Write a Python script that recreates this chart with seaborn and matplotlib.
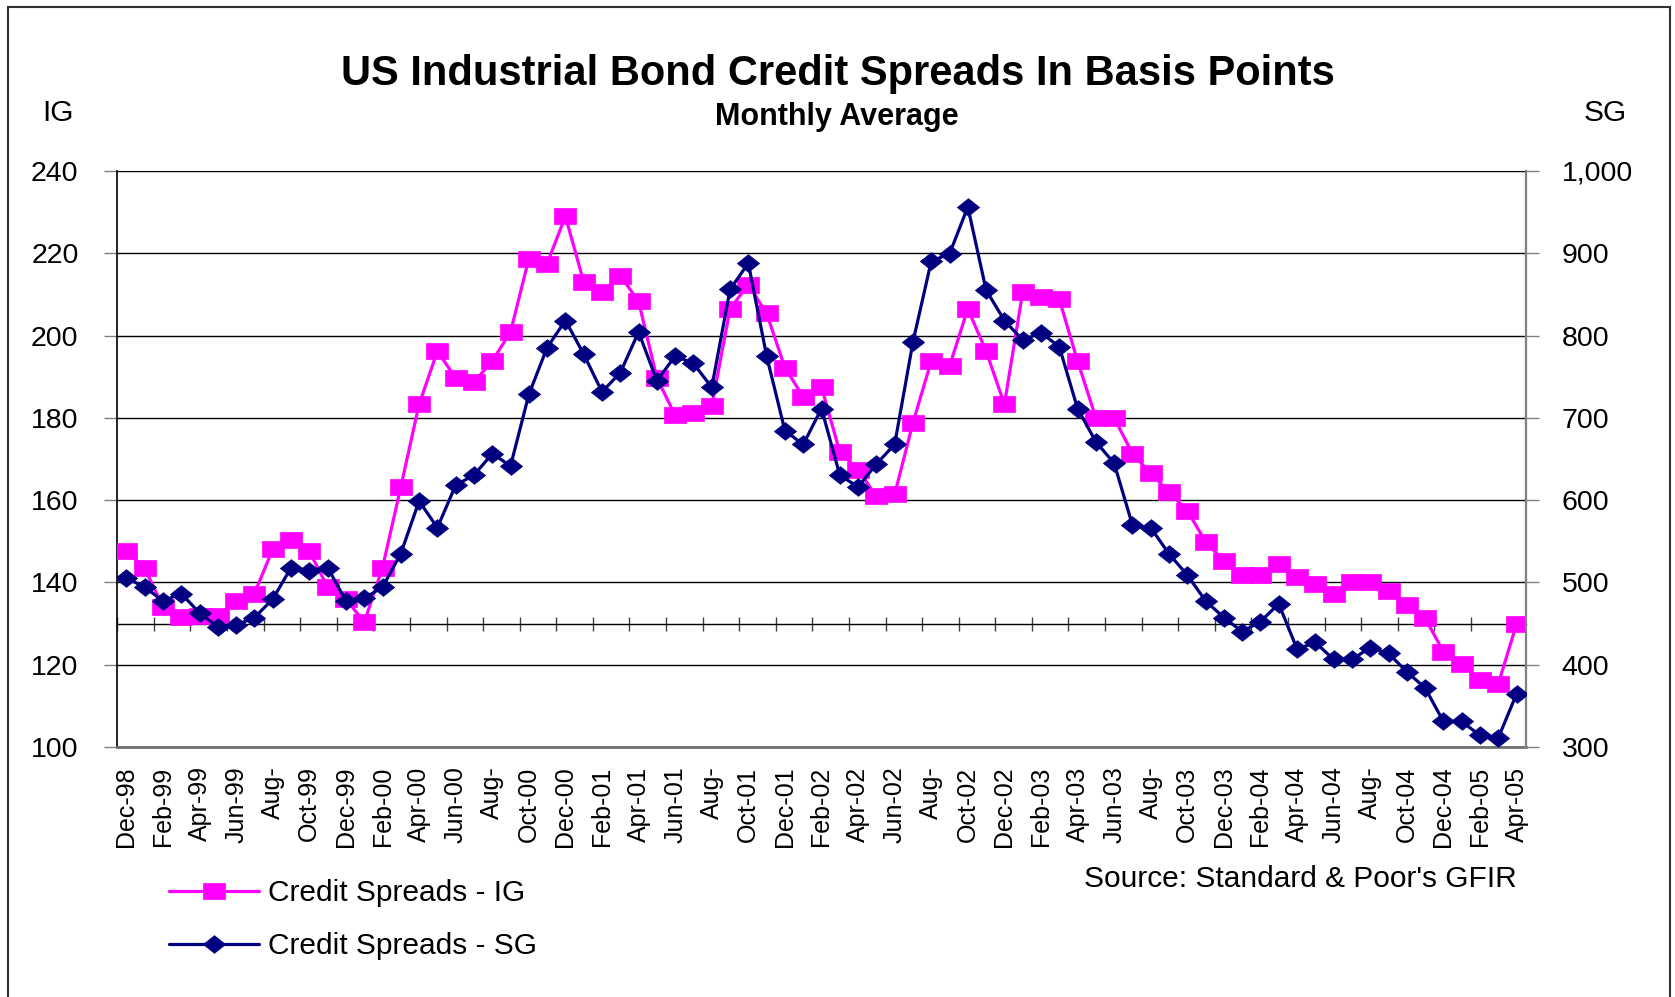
import numpy as np
import pandas as pd
import matplotlib
matplotlib.use("Agg")
import matplotlib.pyplot as plt
from matplotlib.patches import Rectangle
from matplotlib.ticker import FuncFormatter
import seaborn as sns

# ---------------- data ----------------
tick_labels = ["Dec-98", "Feb-99", "Apr-99", "Jun-99", "Aug-", "Oct-99", "Dec-99",
               "Feb-00", "Apr-00", "Jun-00", "Aug-", "Oct-00", "Dec-00", "Feb-01",
               "Apr-01", "Jun-01", "Aug-", "Oct-01", "Dec-01", "Feb-02", "Apr-02",
               "Jun-02", "Aug-", "Oct-02", "Dec-02", "Feb-03", "Apr-03", "Jun-03",
               "Aug-", "Oct-03", "Dec-03", "Feb-04", "Apr-04", "Jun-04", "Aug-",
               "Oct-04", "Dec-04", "Feb-05", "Apr-05"]

ig_spreads = [147.6, 143.5, 134.0, 131.5, 131.9, 131.9, 135.5, 137.3, 148.1, 150.3,
              147.6, 138.8, 136.0, 130.3, 143.6, 163.2, 183.3, 196.2, 189.7, 188.7,
              193.8, 200.9, 218.7, 217.5, 229.0, 213.0, 210.6, 214.6, 208.3, 189.7,
              180.6, 181.2, 182.9, 206.5, 212.4, 205.4, 192.2, 185.1, 187.5, 171.7,
              167.4, 160.9, 161.4, 178.8, 193.8, 192.6, 206.5, 196.2, 183.3, 210.6,
              209.4, 208.8, 193.8, 180.0, 180.0, 171.3, 166.5, 162.0, 157.4, 149.9,
              145.2, 141.8, 141.8, 144.6, 141.3, 139.5, 137.2, 140.0, 140.0, 138.0,
              134.6, 131.3, 123.2, 120.1, 116.4, 115.3, 129.9]

sg_spreads = [505.4, 494.2, 477.5, 486.5, 462.7, 446.0, 448.3, 457.3, 479.8, 518.0,
              514.4, 518.0, 477.5, 480.7, 494.2, 535.1, 598.9, 566.5, 618.3, 630.4,
              656.5, 641.6, 728.4, 785.5, 818.3, 777.4, 731.6, 754.9, 804.4, 745.0,
              775.2, 766.2, 737.0, 856.1, 888.0, 775.2, 684.4, 667.7, 711.3, 630.4,
              616.0, 643.9, 667.7, 792.3, 890.3, 899.3, 956.4, 855.2, 818.3, 794.5,
              803.5, 786.4, 711.3, 670.9, 644.8, 569.7, 566.5, 534.6, 509.0, 477.5,
              457.3, 440.2, 452.5, 474.0, 419.0, 427.0, 406.5, 406.5, 420.8, 413.8,
              391.4, 371.8, 331.0, 331.0, 314.0, 311.0, 364.5]

ig_ticks = [100, 120, 140, 160, 180, 200, 220, 240]
sg_ticks = [300, 400, 500, 600, 700, 800, 900, 1000]

df = pd.DataFrame({"month": np.arange(len(ig_spreads)),
                   "IG": ig_spreads, "SG": sg_spreads})

# ---------------- style ----------------
sns.set_style("white")
plt.rcParams["font.family"] = ["Liberation Sans", "DejaVu Sans"]
plt.rcParams["text.color"] = "black"
plt.rcParams["xtick.color"] = "black"
plt.rcParams["ytick.color"] = "black"
plt.rcParams["axes.labelcolor"] = "black"

IG_COLOR = "#FF00FF"
SG_COLOR = "#000080"

W, H = 1675, 997
fig = plt.figure(figsize=(W / 100, H / 100), dpi=100)
fig.patch.set_facecolor("white")

left_px, right_px, top_px, bottom_px = 117.3, 1525.7, 171, 747
ax = fig.add_axes([left_px / W, 1 - bottom_px / H,
                   (right_px - left_px) / W, (bottom_px - top_px) / H])
ax2 = ax.twinx()

square = [(-1.35, -1), (1.35, -1), (1.35, 1), (-1.35, 1), (-1.35, -1)]
diamond = [(-1.25, 0), (0, 1), (1.25, 0), (0, -1), (-1.25, 0)]

sns.lineplot(data=df, x="month", y="IG", ax=ax, color=IG_COLOR, linewidth=2.3,
             marker=square, markersize=16.5, markeredgecolor=IG_COLOR,
             markerfacecolor=IG_COLOR, markeredgewidth=0.5,
             label="Credit Spreads - IG", zorder=5)
sns.lineplot(data=df, x="month", y="SG", ax=ax2, color=SG_COLOR, linewidth=2.3,
             marker=diamond, markersize=16, markeredgecolor=SG_COLOR,
             markerfacecolor=SG_COLOR, markeredgewidth=0.5,
             label="Credit Spreads - SG", zorder=5)

n = len(ig_spreads)
ax.set_xlim(-0.5, n - 0.5)
ax.set_ylim(ig_ticks[0], ig_ticks[-1])
ax2.set_ylim(sg_ticks[0], sg_ticks[-1])

# x tick labels
ax.set_xticks(np.arange(0, n, 2))
ax.set_xticklabels(tick_labels, rotation=90, fontsize=18, va="top", ha="center")
ax.tick_params(axis="x", length=0, pad=14)
ax.set_xlabel("")

# y axes
ax.set_yticks(ig_ticks)
ax.set_yticklabels([str(t) for t in ig_ticks])
ax.tick_params(axis="y", length=9.4, width=1, color="#808080", pad=18.5,
               labelsize=20.5, labelcolor="black", direction="out")
ax.set_ylabel("")
ax2.set_yticks(sg_ticks)
ax2.yaxis.set_major_formatter(FuncFormatter(lambda v, p: f"{v:,.0f}"))
ax2.tick_params(axis="y", length=9.4, width=1, color="#808080", pad=16.5,
                labelsize=20.5, labelcolor="black", direction="out")
ax2.set_ylabel("")
ax.tick_params(axis="x", labelcolor="black")

# grid
ax.yaxis.grid(True, color="black", linewidth=1)
ax.xaxis.grid(False)
ax2.grid(False)
ax.set_axisbelow(True)

# spines
for a in (ax, ax2):
    for s in ("top", "left", "right", "bottom"):
        a.spines[s].set_visible(False)
ax.spines["left"].set_visible(True)
ax.spines["left"].set_color("black")
ax.spines["left"].set_linewidth(1.2)
ax.spines["bottom"].set_visible(True)
ax.spines["bottom"].set_color("#707070")
ax.spines["bottom"].set_linewidth(2)
ax2.spines["right"].set_visible(True)
ax2.spines["right"].set_color("#808080")
ax2.spines["right"].set_linewidth(1.6)

# category axis crossing at IG = 130
cross = 130
sec = ax.secondary_xaxis((cross - ig_ticks[0]) / (ig_ticks[-1] - ig_ticks[0]))
sec.set_xticks(np.arange(-0.5, n - 0.5, 2))
sec.tick_params(axis="x", direction="inout", length=9.4, width=1,
                color="#404040", labelbottom=False)
sec.spines["bottom"].set_color("black")
sec.spines["bottom"].set_linewidth(1)

# remove automatic legends
for a in (ax, ax2):
    if a.get_legend() is not None:
        a.get_legend().remove()

h1 = [l for l in ax.get_lines() if l.get_label() == "Credit Spreads - IG"][0]
h2 = [l for l in ax2.get_lines() if l.get_label() == "Credit Spreads - SG"][0]
fig.legend([h1, h2], ["Credit Spreads - IG", "Credit Spreads - SG"],
           loc="upper left", bbox_to_anchor=(169 / W, 1 - 879 / H),
           frameon=False, fontsize=21.5, handlelength=3.0, handletextpad=0.3,
           labelspacing=0.85, borderpad=0, borderaxespad=0)

# texts
fig.text(838 / W, 1 - 74 / H, "US Industrial Bond Credit Spreads In Basis Points",
         ha="center", va="center", fontsize=30, fontweight="bold")
fig.text(837 / W, 1 - 117 / H, "Monthly Average", ha="center", va="center",
         fontsize=22, fontweight="bold")
fig.text(58 / W, 1 - 113 / H, "IG", ha="center", va="center", fontsize=21.5)
fig.text(1605 / W, 1 - 113 / H, "SG", ha="center", va="center", fontsize=21.5)
fig.text(1517 / W, 1 - 879 / H, "Source: Standard & Poor's GFIR", ha="right",
         va="center", fontsize=21.5)

# outer border
fig.add_artist(Rectangle((8 / W, -0.02), (1670 - 8) / W, 1.02 - 7 / H,
                         transform=fig.transFigure, fill=False,
                         edgecolor="#303030", linewidth=1.5))

fig.savefig("out.png", dpi=100, facecolor="white")
